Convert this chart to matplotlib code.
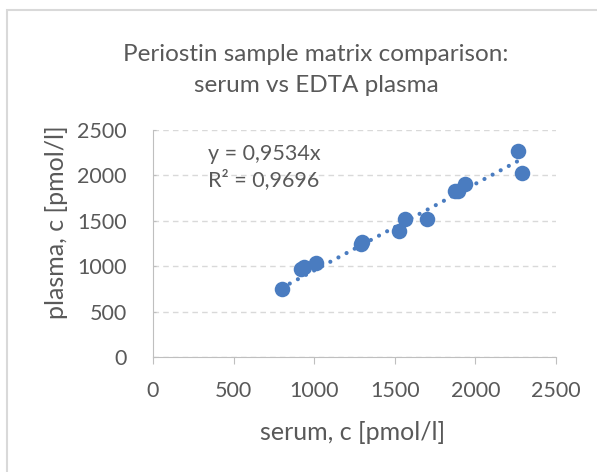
import numpy as np
import matplotlib
matplotlib.use('Agg')
from matplotlib import pyplot as plt
from matplotlib.patches import Rectangle

# serum vs plasma values (pmol/l)
serum = [798, 918, 938, 1010, 1288, 1298, 1529, 1562, 1700, 1875, 1895, 1936, 2265, 2286]
plasma = [745, 966, 994, 1039, 1244, 1270, 1388, 1520, 1516, 1828, 1831, 1905, 2272, 2030]
slope = 0.9534

ticks = [0, 500, 1000, 1500, 2000, 2500]

plt.rcParams['font.family'] = ['Lato', 'DejaVu Sans']
txt = '#595959'
blue = '#4a7cc0'
W, H = 597, 472

fig = plt.figure(figsize=(W / 100, H / 100), dpi=100)

# chart border (right/bottom edges fall off the picture)
fig.patches.append(Rectangle((7 / W, -0.1), 1.2, 1.1 - 10 / H, transform=fig.transFigure,
                             fill=False, edgecolor='#d9d9d9', lw=1.5))

ax = fig.add_axes([153 / W, 1 - 357 / H, 403 / W, 227 / H])

ax.scatter(serum, plasma, s=125, color=blue, zorder=3, linewidths=0)
xs = np.array([min(serum), max(serum)])
ax.plot(xs, slope * xs, linestyle=(0, (0.01, 2.2)), color=blue, lw=3.0,
        dash_capstyle='round', zorder=2)

ax.set_xlim(0, 2500)
ax.set_ylim(0, 2500)
ax.set_xticks(ticks)
ax.set_yticks(ticks)
ax.grid(axis='y', color='#d9d9d9', linestyle=(0, (4, 3)), lw=1)
ax.set_axisbelow(True)
for s in ['top', 'right']:
    ax.spines[s].set_visible(False)
for s in ['left', 'bottom']:
    ax.spines[s].set_color('#bfbfbf')
ax.tick_params(axis='x', colors='#bfbfbf', labelcolor=txt, labelsize=15.5, length=5, pad=12)
ax.tick_params(axis='y', colors='#bfbfbf', labelcolor=txt, labelsize=15.5, length=2,
               direction='in', pad=19)

fig.text(353 / W, 1 - 432 / H, 'serum, c [pmol/l]', ha='center', va='center',
         fontsize=18, color=txt)
fig.text(57 / W, 1 - 222 / H, 'plasma, c [pmol/l]', ha='center', va='center',
         fontsize=18, color=txt, rotation=90)

fig.text(316 / W, 1 - 70 / H, 'Periostin sample matrix comparison:\nserum vs EDTA plasma',
         ha='center', va='center', fontsize=17.5, color=txt, linespacing=1.6)

ax.text(55 / 403, (357 - 167) / 227, 'y = 0,9534x\nR² = 0,9696',
        transform=ax.transAxes, ha='left', va='center', fontsize=15.5, color=txt,
        linespacing=1.3)

fig.savefig('out.png', dpi=100)
